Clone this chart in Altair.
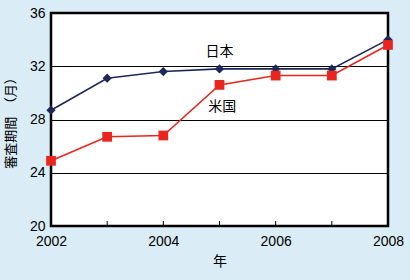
import altair as alt
import pandas as pd

years = [2002, 2003, 2004, 2005, 2006, 2007, 2008]
japan = [28.7, 31.1, 31.6, 31.8, 31.8, 31.8, 34.0]
usa = [24.9, 26.7, 26.8, 30.6, 31.3, 31.3, 33.6]
label_text = ["日本", "米国"]
label_x = [2005.0, 2005.05]
label_y = [33.1, 28.95]

df = pd.DataFrame({"year": years * 2,
                   "value": japan + usa,
                   "country": ["日本"] * len(years) + ["米国"] * len(years)})
lab = pd.DataFrame({"t": label_text, "x": label_x, "y": label_y})
tk = pd.DataFrame({"year": years})

FONT = "Liberation Sans"
xs = alt.Scale(domain=[2002, 2008], nice=False)
ys = alt.Scale(domain=[20, 36], nice=False)

xaxis = alt.Axis(values=[2002, 2004, 2006, 2008], format="d", title="年",
                 ticks=False, domain=False, grid=False, labelFontSize=14,
                 labelColor="black", labelPadding=8, titleFontSize=14,
                 titleFontWeight="normal", titleColor="black", titlePadding=6,
                 labelFont=FONT, titleFont="Noto Sans CJK JP",
                 labelFlush=False, labelOverlap=False)
yaxis = alt.Axis(values=[20, 24, 28, 32, 36], title="審査期間　（月）",
                 ticks=False, domain=False, grid=True, gridColor="black",
                 gridWidth=1, gridOpacity=1, labelFontSize=14, labelColor="black",
                 labelPadding=6, titleFontSize=13, titleFontWeight="normal",
                 titleColor="black", titlePadding=12, labelFont=FONT,
                 titleFont="Noto Sans CJK JP", labelFlush=False)

colors = alt.Scale(domain=["日本", "米国"], range=["#1e2858", "#e8261e"])

base = alt.Chart(df)
lines = base.mark_line(strokeWidth=1.6).encode(
    x=alt.X("year:Q", scale=xs, axis=xaxis),
    y=alt.Y("value:Q", scale=ys, axis=yaxis),
    color=alt.Color("country:N", scale=colors, legend=None),
    detail="country:N",
)
jp_pts = alt.Chart(df[df.country == "日本"]).mark_point(
    shape="diamond", filled=True, size=85, opacity=1, color="#1e2858"
).encode(x=alt.X("year:Q", scale=xs), y=alt.Y("value:Q", scale=ys))
us_pts = alt.Chart(df[df.country == "米国"]).mark_point(
    shape="square", filled=True, size=95, opacity=1, color="#e8261e"
).encode(x=alt.X("year:Q", scale=xs), y=alt.Y("value:Q", scale=ys))

ticks = alt.Chart(tk).mark_rule(color="black", strokeWidth=1).encode(
    x=alt.X("year:Q", scale=xs), y=alt.value(213), y2=alt.value(208))

labels = alt.Chart(lab).mark_text(fontSize=14, color="black",
                                  font="Noto Sans CJK JP").encode(
    x=alt.X("x:Q", scale=xs), y=alt.Y("y:Q", scale=ys), text="t:N")

chart = alt.layer(ticks, lines, jp_pts, us_pts, labels).properties(
    width=337, height=213,
    background="#daecf5",
    autosize=alt.AutoSizeParams(type="none"),
    padding={"left": 51, "top": 13, "right": 22, "bottom": 54},
).configure_view(fill="white", stroke="black", strokeWidth=2.5)

chart.save("out.html", embed_options={"renderer": "svg", "actions": False})
